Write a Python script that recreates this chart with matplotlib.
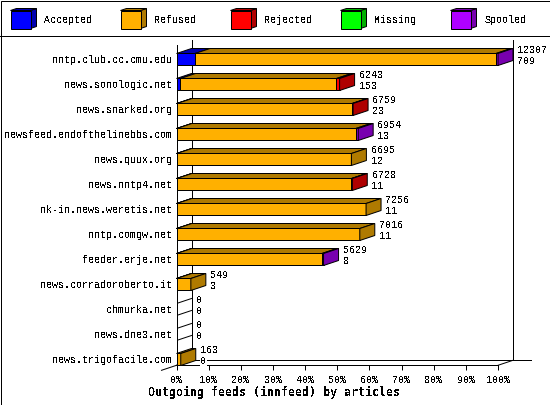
import matplotlib
matplotlib.use("Agg")
import matplotlib.pyplot as plt
from matplotlib.patches import Polygon, Rectangle

# ==============================
# DATA
# ==============================

hosts = ["nntp.club.cc.cmu.edu", "news.sonologic.net", "news.snarked.org",
         "newsfeed.endofthelinebbs.com", "news.quux.org", "news.nntp4.net",
         "nk-in.news.weretis.net", "nntp.comgw.net", "feeder.erje.net",
         "news.corradoroberto.it", "chmurka.net", "news.dne3.net",
         "news.trigofacile.com"]
offered = [12307, 6243, 6759, 6954, 6695, 6728, 7256, 7016, 5629, 549, 0, 0, 163]
accepted = [709, 153, 23, 13, 12, 11, 11, 11, 8, 3, 0, 0, 0]
rejected = [0, 120, 40, 0, 0, 30, 0, 0, 0, 0, 0, 0, 0]
missing = [0, 0, 0, 0, 0, 0, 0, 0, 0, 0, 0, 0, 0]
spooled = [75, 0, 0, 90, 0, 0, 0, 0, 60, 0, 0, 0, 0]
refused = [o - a - r - m - s for o, a, r, m, s in
           zip(offered, accepted, rejected, missing, spooled)]

series_names = ["Accepted", "Refused", "Rejected", "Missing", "Spooled"]
series_values = [accepted, refused, rejected, missing, spooled]
x_ticks = list(range(0, 101, 10))
x_title = "Outgoing feeds (innfeed) by articles"

# ==============================
# STYLE
# ==============================

front_colors = ["#0000ff", "#ffb000", "#ff0000", "#00ff00", "#af00ff"]
side_colors = ["#0000af", "#af7a00", "#af0000", "#00af00", "#7800af"]

W, H = 550, 405
LEFT, RIGHT, BOTTOM, TOP = 176.5, 498.0, 365.3, 45.5
ROW_PX = 25.0
DEPTH_X_PX, DEPTH_Y_PX = 15.0, 5.0
LW = 0.72  # one pixel at 100 dpi
FS = 7.2

plt.rcParams["font.family"] = ["Liberation Mono", "DejaVu Sans Mono"]
plt.rcParams["text.antialiased"] = False

fig = plt.figure(figsize=(W / 100, H / 100), dpi=100)

# pixel canvas for frame and legend
bg = fig.add_axes([0, 0, 1, 1])
bg.set_xlim(0, W)
bg.set_ylim(H, 0)
bg.axis("off")
bg.add_patch(Rectangle((0.5, 0.5), W - 1, H - 1, fc="white", ec="black", lw=LW))
bg.plot([0, W], [35.5, 35.5], color="black", lw=LW)

for i, name in enumerate(series_names):
    x0 = 10.5 + 110 * i
    y0, w, h, dx, dy = 10.5, 20, 18, 6, 2
    bg.add_patch(Polygon([(x0 + w, y0), (x0 + w + dx, y0 - dy), (x0 + w + dx, y0 + h - dy), (x0 + w, y0 + h)],
                         fc=side_colors[i], ec="black", lw=LW))
    bg.add_patch(Polygon([(x0, y0), (x0 + dx, y0 - dy), (x0 + w + dx, y0 - dy), (x0 + w, y0)],
                         fc=side_colors[i], ec="black", lw=LW))
    bg.add_patch(Rectangle((x0, y0), w, h, fc=front_colors[i], ec="black", lw=LW))
    bg.text(x0 + 34, 20, name, fontsize=FS, va="center", ha="left")

# data axes: 0-100 %, one unit per row
ax = fig.add_axes([LEFT / W, 1 - BOTTOM / H, (RIGHT - LEFT) / W, (BOTTOM - TOP) / H])
ax.patch.set_alpha(0)
center0 = 59.5
ax.set_xlim(0, 100)
ax.set_ylim((BOTTOM - center0) / ROW_PX, (TOP - center0) / ROW_PX)
depth_x = DEPTH_X_PX * 100 / (RIGHT - LEFT)
depth_y = DEPTH_Y_PX / ROW_PX
half = 6.0 / ROW_PX
y_low, y_high = ax.get_ylim()

for s in ax.spines.values():
    s.set_visible(False)
ax.spines["left"].set_visible(True)
ax.spines["left"].set_linewidth(LW)

ax.set_xticks(x_ticks)
ax.set_xticklabels([f"{t}%" for t in x_ticks], fontsize=FS)
ax.tick_params(axis="x", length=3.6, width=LW, pad=3.5)
ax.set_yticks(range(len(hosts)))
ax.set_yticklabels(hosts, fontsize=FS)
ax.tick_params(axis="y", length=0, pad=3)

wall = dict(color="black", lw=LW, clip_on=False, zorder=1)
# front edge, back wall and floor
ax.plot([0, 100], [y_low, y_low], **wall)
ax.plot([depth_x, depth_x], [y_low - depth_y, y_high - depth_y], **wall)
ax.plot([100 + depth_x, 100 + depth_x], [y_low - depth_y, y_high - depth_y], **wall)
ax.plot([depth_x, 100 + depth_x + 18 * 100 / (RIGHT - LEFT)], [y_low - depth_y, y_low - depth_y], **wall)
ax.plot([0, depth_x], [y_low, y_low - depth_y], **wall)
ax.plot([100, 100 + depth_x], [y_low, y_low - depth_y], **wall)
ax.plot([-depth_x, 0], [y_low + depth_y, y_low], **wall)

max_total = max(offered)
edge = dict(ec="black", lw=LW, clip_on=False, zorder=3)

for row, host in enumerate(hosts):
    top, low = row - half, row + half
    left = 0.0
    last_side = None
    for k, values in enumerate(series_values):
        width = values[row] * 100.0 / max_total
        if width <= 0:
            continue
        ax.barh(row, width, height=2 * half, left=left,
                color=front_colors[k], edgecolor="black", linewidth=LW, zorder=3, clip_on=False)
        ax.add_patch(Polygon([(left, top), (left + depth_x, top - depth_y),
                              (left + width + depth_x, top - depth_y), (left + width, top)],
                             fc=side_colors[k], **edge))
        left += width
        last_side = side_colors[k]
    if last_side is None:
        ax.plot([0, depth_x], [top, top - depth_y], color="black", lw=LW, zorder=3)
        ax.plot([0, depth_x], [low, low - depth_y], color="black", lw=LW, zorder=3)
    else:
        ax.add_patch(Polygon([(left, top), (left + depth_x, top - depth_y),
                              (left + depth_x, low - depth_y), (left, low)],
                             fc=last_side, **edge))
    label_x = left + depth_x + 4.5 * 100 / (RIGHT - LEFT)
    box = dict(fc="white", ec="none", pad=0.2)
    ax.text(label_x, row - 9.0 / ROW_PX, str(offered[row]), fontsize=FS, va="center",
            ha="left", clip_on=False, zorder=4, bbox=box)
    ax.text(label_x, row + 2.0 / ROW_PX, str(accepted[row]), fontsize=FS, va="center",
            ha="left", clip_on=False, zorder=4, bbox=box)

ax.set_xlim(0, 100)
ax.set_ylim(y_low, y_high)
ax.set_xlabel(x_title, fontsize=8.4, fontweight="bold", family=["DejaVu Sans Mono"], labelpad=1)
ax.xaxis.set_label_coords((274 - LEFT) / (RIGHT - LEFT), (BOTTOM - 392) / (BOTTOM - TOP))
ax.xaxis.label.set_va("center")

fig.savefig("out.png", dpi=100)
